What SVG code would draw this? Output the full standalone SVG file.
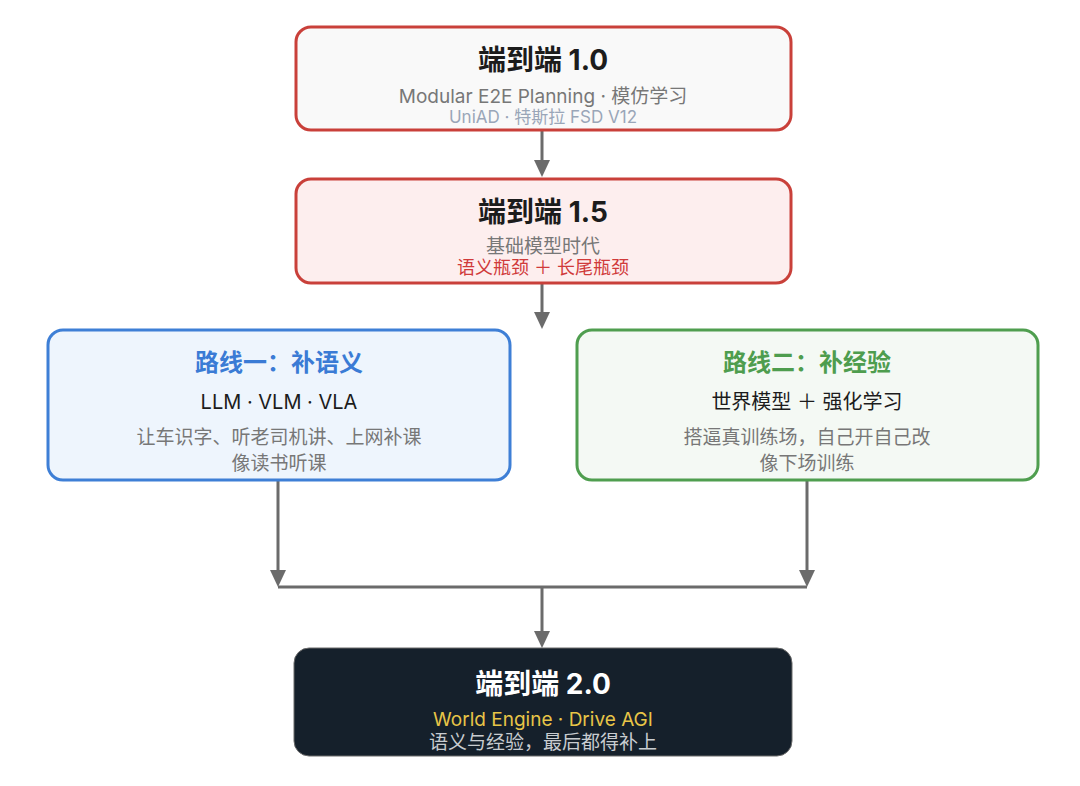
<svg xmlns="http://www.w3.org/2000/svg" width="1080" height="786" viewBox="0 0 1080 786">
<defs>
<style>
text{font-family:"Inter","Noto Sans CJK SC",sans-serif;text-anchor:middle}
.t{font-size:28px;font-weight:700;fill:#1c1c1c}
.s{font-size:19px;fill:#777777}
.s3{font-size:17px;fill:#9aa6b8}
.red{font-size:18px;fill:#d03a3a}
.box{stroke-width:3}
.line{stroke:#6b6b6b;stroke-width:3;fill:none}
.head{fill:#6b6b6b}
</style>
</defs>
<rect width="1080" height="786" fill="#ffffff"/>
<g id="connectors">
<line class="line" x1="542" y1="131" x2="542" y2="160"/>
<path class="head" d="M534 160 L550 160 L542 177 Z"/>
<line class="line" x1="542" y1="284" x2="542" y2="312"/>
<path class="head" d="M534 312 L550 312 L542 329 Z"/>
<line class="line" x1="278" y1="481" x2="278" y2="570"/>
<path class="head" d="M270 570 L286 570 L278 587 Z"/>
<line class="line" x1="807" y1="481" x2="807" y2="570"/>
<path class="head" d="M799 570 L815 570 L807 587 Z"/>
<line class="line" x1="278" y1="587" x2="807" y2="587"/>
<line class="line" x1="542" y1="587" x2="542" y2="631"/>
<path class="head" d="M534 631 L550 631 L542 648 Z"/>
</g>
<g id="node-e2e-1-0">
<rect class="box" x="296" y="27" width="495" height="103" rx="15" fill="#f9f9f9" stroke="#c9403a"/>
<text class="t" x="543" y="70">端到端 1.0</text>
<text class="s" x="543" y="103">Modular E2E Planning · 模仿学习</text>
<text class="s3" x="543" y="123">UniAD · 特斯拉 FSD V12</text>
</g>
<g id="node-e2e-1-5">
<rect class="box" x="296" y="179" width="495" height="104" rx="15" fill="#fdeeee" stroke="#c9403a"/>
<text class="t" x="543" y="222">端到端 1.5</text>
<text class="s" x="543" y="253">基础模型时代</text>
<text class="red" x="543" y="274">语义瓶颈 ＋ 长尾瓶颈</text>
</g>
<g id="node-route-1">
<rect class="box" x="48" y="330" width="462" height="150" rx="15" fill="#eef5fd" stroke="#3e7fd6"/>
<text class="t" x="279" y="371" style="font-size:24px;fill:#3a7bd5">路线一：补语义</text>
<text x="279" y="409" style="font-size:20px;fill:#1c1c1c">LLM · VLM · VLA</text>
<text class="s" x="279" y="444">让车识字、听老司机讲、上网补课</text>
<text class="s" x="279" y="470">像读书听课</text>
</g>
<g id="node-route-2">
<rect class="box" x="577" y="330" width="461" height="150" rx="15" fill="#f4f9f4" stroke="#4f9e4f"/>
<text class="t" x="807" y="371" style="font-size:24px;fill:#4e9d4e">路线二：补经验</text>
<text x="807" y="409" style="font-size:20px;fill:#1c1c1c">世界模型 ＋ 强化学习</text>
<text class="s" x="807" y="444">搭逼真训练场，自己开自己改</text>
<text class="s" x="807" y="470">像下场训练</text>
</g>
<g id="node-e2e-2-0">
<rect x="294" y="648" width="498" height="108" rx="15" fill="#15202b" stroke="#6b6b6b" stroke-width="1"/>
<text class="t" x="543" y="694" style="fill:#ffffff">端到端 2.0</text>
<text x="543" y="726" style="font-size:19px;fill:#e8c547">World Engine · Drive AGI</text>
<text x="543" y="749" style="font-size:19px;fill:#c8ccd0">语义与经验，最后都得补上</text>
</g>
</svg>
